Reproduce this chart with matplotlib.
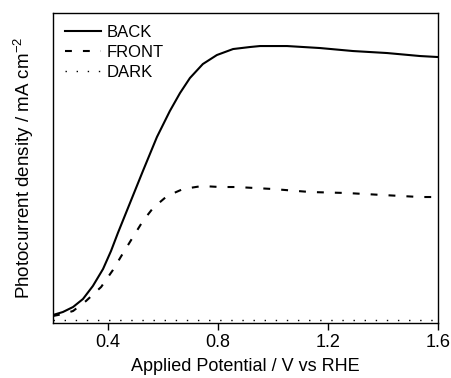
import numpy as np
import matplotlib
matplotlib.use("Agg")
import matplotlib.pyplot as plt

plt.rcParams['font.family'] = ['Liberation Sans', 'DejaVu Sans']

# values (arbitrary current units, no y scale shown)
back_v = [0.200, 0.236, 0.273, 0.309, 0.345, 0.382, 0.411, 0.436, 0.480, 0.527,
          0.578, 0.625, 0.662, 0.698, 0.745, 0.796, 0.855, 0.916, 0.953, 1.051,
          1.171, 1.291, 1.415, 1.535, 1.600]
back_j = [0.08, 0.11, 0.16, 0.24, 0.37, 0.54, 0.72, 0.90, 1.20, 1.52,
          1.86, 2.12, 2.30, 2.45, 2.59, 2.68, 2.74, 2.76, 2.77, 2.77,
          2.75, 2.72, 2.70, 2.67, 2.66]

front_v = [0.200, 0.236, 0.273, 0.320, 0.375, 0.418, 0.455, 0.491, 0.527, 0.564,
           0.615, 0.673, 0.742, 0.807, 0.869, 1.000, 1.135, 1.269, 1.400, 1.535, 1.600]
front_j = [0.07, 0.09, 0.12, 0.22, 0.36, 0.53, 0.70, 0.86, 1.02, 1.15,
           1.27, 1.34, 1.37, 1.36, 1.36, 1.34, 1.31, 1.30, 1.28, 1.26, 1.26]

dark_v = [0.20, 1.60]
dark_j = [0.03, 0.03]

xticks = [0.4, 0.8, 1.2, 1.6]

fig = plt.figure(figsize=(4.51, 3.78), dpi=100)
ax = fig.add_axes([0.1175, 0.1455, 0.8535, 0.82])

ax.plot(back_v, back_j, color='black', lw=1.5, label='BACK')
ax.plot(front_v, front_j, color='black', lw=1.5, linestyle=(0, (3.3, 5.3)), label='FRONT')
ax.plot(dark_v, dark_j, color='black', lw=1.0, linestyle=(0, (1, 7)), label='DARK')

ax.set_xlim(0.2, 1.6)
ax.set_ylim(0, 3.1)
ax.set_xticks(xticks)
ax.set_xticklabels(['%.1f' % t for t in xticks])
ax.set_yticks([])
ax.tick_params(axis='x', direction='out', length=5, width=1, labelsize=13, pad=3)
for s in ax.spines.values():
    s.set_linewidth(1.0)

ax.set_xlabel('Applied Potential / V vs RHE', fontsize=13, labelpad=5)
ax.set_ylabel('Photocurrent density / mA cm$^{\\mathregular{-2}}$', fontsize=13.5, labelpad=12)

ax.legend(loc='upper left', frameon=False, fontsize=12, handlelength=2.2,
          handletextpad=0.3, labelspacing=0.3, borderaxespad=0.3)

fig.savefig('out.png', dpi=100)
